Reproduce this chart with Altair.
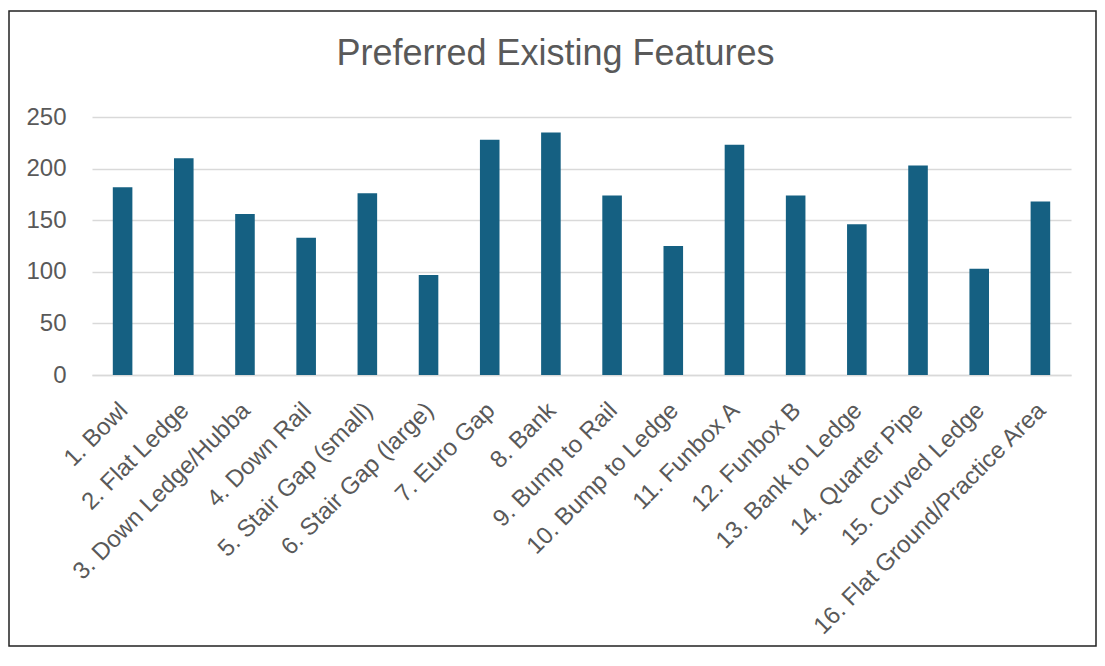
import altair as alt
import pandas as pd

features = [
    "1. Bowl", "2. Flat Ledge", "3. Down Ledge/Hubba", "4. Down Rail",
    "5. Stair Gap (small)", "6. Stair Gap (large)", "7. Euro Gap", "8. Bank",
    "9. Bump to Rail", "10. Bump to Ledge", "11. Funbox A", "12. Funbox B",
    "13. Bank to Ledge", "14. Quarter Pipe", "15. Curved Ledge",
    "16. Flat Ground/Practice Area",
]
counts = [182, 210, 156, 133, 176, 97, 228, 235, 174, 125, 223, 174, 146, 203, 103, 168]
y_ticks = [0, 50, 100, 150, 200, 250]

df = pd.DataFrame({"feature": features, "count": counts})

FONT = "Liberation Sans"
GREY = "#595959"

bars = alt.Chart(df).mark_bar(color="#156082").encode(
    x=alt.X(
        "feature:N",
        sort=features,
        title=None,
        scale=alt.Scale(paddingInner=0.68, paddingOuter=0.34),
        axis=alt.Axis(
            labelAngle=-45,
            labelAlign="right",
            labelBaseline="top",
            labelFontSize=24,
            labelColor=GREY,
            labelFont=FONT,
            labelPadding=23,
            labelOffset=-7,
            ticks=False,
            domainColor="#D9D9D9",
            domainWidth=1.5,
            labelLimit=500,
        ),
    ),
    y=alt.Y(
        "count:Q",
        title=None,
        scale=alt.Scale(domain=[0, 250]),
        axis=alt.Axis(
            values=y_ticks,
            labelFontSize=24,
            labelColor=GREY,
            labelFont=FONT,
            labelPadding=26,
            ticks=False,
            domain=False,
            gridColor="#D9D9D9",
            gridWidth=1.5,
        ),
    ),
)

frame = alt.Chart(pd.DataFrame({"a": [0]})).mark_rect(
    filled=False, stroke="#222222", strokeWidth=1.5
).encode(
    x=alt.value(-83), x2=alt.value(1004), y=alt.value(-106), y2=alt.value(529)
)

chart = alt.layer(bars, frame).properties(
    width=979,
    height=258,
    autosize="none",
    padding={"left": 84, "top": 109, "right": 26, "bottom": 275},
    title=alt.TitleParams(
        "Preferred Existing Features",
        fontSize=36,
        font=FONT,
        fontWeight="normal",
        color=GREY,
        anchor="middle",
        baseline="alphabetic",
        dx=-26,
        offset=-91,
    ),
).configure_view(stroke=None)

chart.save("out.html", embed_options={"renderer": "svg", "actions": False})
